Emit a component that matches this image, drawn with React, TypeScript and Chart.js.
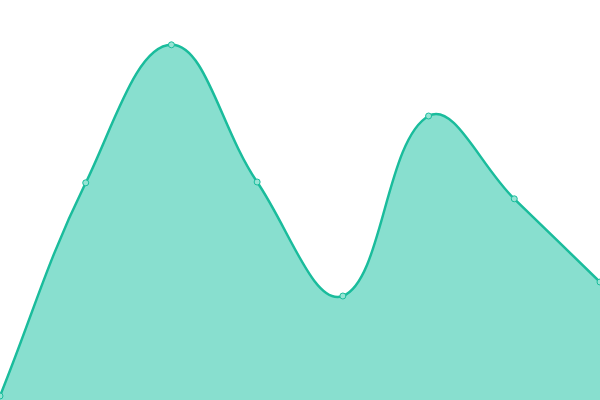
import React, { useEffect, useRef } from "react";
import { Chart, registerables } from "chart.js";

Chart.register(...registerables);

const categories = ["A", "B", "C", "D", "E", "F", "G", "H"];
const values = [1, 54.3, 88.8, 54.5, 26, 71, 50.3, 29.5];

export default function App() {
  const ref = useRef<HTMLCanvasElement | null>(null);
  useEffect(() => {
    if (!ref.current) return;
    const chart = new Chart(ref.current, {
      type: "line",
      data: {
        labels: categories,
        datasets: [
          {
            data: values,
            fill: true,
            backgroundColor: "rgba(17,191,159,0.5)",
            borderColor: "#1abc9c",
            borderWidth: 2.5,
            tension: 0.4,
            pointRadius: 3,
            pointBorderWidth: 1,
            pointBackgroundColor: "rgb(150,228,212)",
            pointBorderColor: "#1abc9c",
          },
        ],
      },
      options: {
        animation: false,
        responsive: false,
        maintainAspectRatio: false,
        layout: { padding: 0, autoPadding: false },
        plugins: { legend: { display: false }, tooltip: { enabled: false } },
        scales: {
          x: { display: false, offset: false },
          y: { display: false, min: 0, max: 100 },
        },
      },
    });
    return () => chart.destroy();
  }, []);
  return (
    <div style={{ position: "fixed", left: 0, top: 0, width: 600, height: 400, background: "#fff" }}>
      <canvas ref={ref} width={600} height={400} style={{ display: "block", width: 600, height: 400 }} />
    </div>
  );
}
